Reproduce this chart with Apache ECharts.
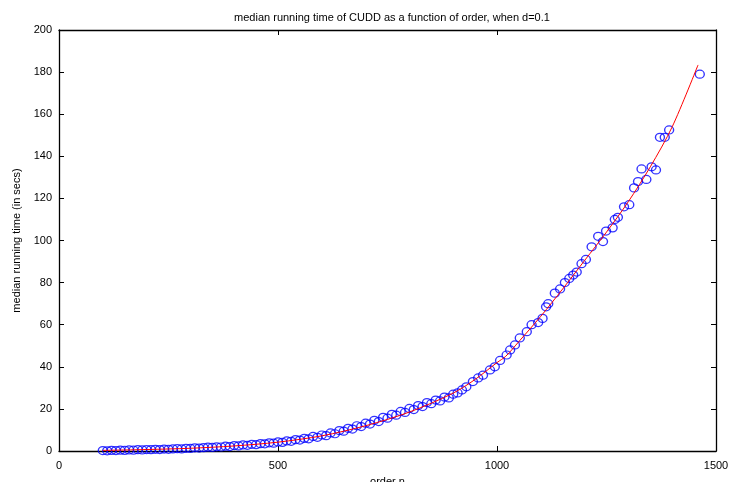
<!DOCTYPE html>
<html>
<head>
<meta charset="utf-8">
<script src="https://cdn.jsdelivr.net/npm/echarts@6/dist/echarts.min.js"></script>
<style>html,body{margin:0;padding:0;background:#fff;}#c{width:730px;height:482px;}</style>
</head>
<body>
<div id="c"></div>
<script>
var titleText = 'median running time of CUDD as a function of order, when d=0.1';
var xName = 'order n';
var yName = 'median running time (in secs)';
var xTicks = [0, 500, 1000, 1500];
var yTicks = [0, 20, 40, 60, 80, 100, 120, 140, 160, 180, 200];

// measured points (blue circles)
var orderN = [100,110,120,130,140,150,160,170,180,190,200,210,220,230,240,250,260,270,280,290,
  300,310,320,330,340,350,360,370,380,390,400,410,420,430,440,450,460,470,480,490,
  500,510,520,530,540,550,560,570,580,590,600,610,620,630,640,650,660,670,680,690,
  700,710,720,730,740,750,760,770,780,790,800,810,820,830,840,850,860,870,880,890,
  900,910,920,930,945,957,968,984,995,1007,1022,1030,1041,1052,1068,1079,1094,1104,1112,1117,
  1132,1144,1155,1165,1174,1182,1193,1203,1216,1231,1242,1249,1264,1269,1276,1290,1302,1313,1322,1330,
  1341,1353,1363,1372,1383,1393,1463];
var runTime = [0.2,0.1,0.3,0.2,0.4,0.3,0.5,0.4,0.6,0.5,0.7,0.6,0.8,0.7,0.9,0.8,1.0,1.1,1.0,1.3,
  1.2,1.5,1.4,1.6,1.8,1.7,2.0,1.9,2.3,2.1,2.6,2.4,2.9,2.7,3.2,3.0,3.5,3.4,3.9,3.7,
  4.3,4.1,4.8,4.6,5.4,5.2,6.0,5.8,6.9,6.5,7.6,7.3,8.6,8.2,9.7,9.4,10.8,10.4,12.0,11.6,
  13.2,12.8,14.6,14.0,16.0,15.6,17.4,17.0,18.8,18.3,20.2,19.7,21.6,21.1,23.0,22.5,24.2,23.8,25.6,25.2,
  27.0,27.6,29.0,30.5,33.0,34.7,36.0,38.5,40.0,43.0,45.6,48.0,50.4,53.7,56.7,60.0,61.0,63.0,68.5,70.0,
  75.0,77.0,80.0,82.0,83.6,85.0,89.0,91.0,97.0,102.0,99.5,104.5,106.0,110.0,111.0,116.0,117.0,125.0,128.0,134.0,
  129.0,135.0,133.5,149.0,149.0,152.5,179.0];

// fitted curve (red line)
var fitN = [100,200,300,400,500,600,700,800,900,950,1000,1020,1050,1100,1150,1200,1250,1300,1350,1400,1459];
var fitTime = [0.3,0.7,1.3,2.4,4.2,7.2,12.0,18.5,27.5,34.0,42.0,45.0,52.0,64.0,77.0,90.5,104.0,118.5,135.0,154.0,183.4];

var pts = orderN.map(function (n, i) { return [n, runTime[i]]; });
var fit = fitN.map(function (n, i) { return [n, fitTime[i]]; });

var font = 'Liberation Sans, Arial, sans-serif';
function axisBase() {
  return {
    axisLine: { show: true, onZero: false, lineStyle: { color: '#000', width: 1.3 } },
    axisTick: { show: true, inside: true, length: 5, lineStyle: { color: '#000', width: 1 } },
    splitLine: { show: false }
  };
}
var chart = echarts.init(document.getElementById('c'), null, { renderer: 'canvas' });
chart.setOption({
  backgroundColor: '#fff',
  animation: false,
  title: {
    text: titleText, left: 387, top: 7, textAlign: 'center',
    textStyle: { fontFamily: font, fontSize: 11, fontWeight: 'normal', color: '#000' }
  },
  grid: { left: 59, right: 14, top: 30, bottom: 31, containLabel: false, outerBoundsMode: 'none' },
  xAxis: [
    Object.assign(axisBase(), {
      type: 'value', min: 0, max: 1500, interval: 500,
      name: xName, nameLocation: 'middle', nameGap: 25,
      nameTextStyle: { fontFamily: font, fontSize: 11, color: '#000' },
      axisLabel: { fontFamily: font, fontSize: 11, color: '#000', margin: 9,
        formatter: function (v) { return xTicks.indexOf(v) >= 0 ? String(v) : ''; } }
    }),
    Object.assign(axisBase(), {
      type: 'value', min: 0, max: 1500, interval: 500, position: 'top',
      axisLabel: { show: false }
    })
  ],
  yAxis: [
    Object.assign(axisBase(), {
      type: 'value', min: 0, max: 200, interval: 20,
      name: yName, nameLocation: 'middle', nameGap: 35, nameRotate: 90,
      nameTextStyle: { fontFamily: font, fontSize: 11, color: '#000' },
      axisLabel: { fontFamily: font, fontSize: 11, color: '#000', margin: 7,
        formatter: function (v) { return yTicks.indexOf(v) >= 0 ? String(v) : ''; } }
    }),
    Object.assign(axisBase(), {
      type: 'value', min: 0, max: 200, interval: 20, position: 'right',
      axisLabel: { show: false }
    })
  ],
  series: [
    {
      type: 'scatter', xAxisIndex: 0, yAxisIndex: 0, data: pts,
      symbol: 'circle', symbolSize: [9, 8],
      itemStyle: { color: 'rgba(0,0,0,0)', borderColor: '#0000ff', borderWidth: 1.3 },
      z: 2
    },
    {
      type: 'line', xAxisIndex: 0, yAxisIndex: 0, data: fit,
      showSymbol: false, symbol: 'none', smooth: 0.3,
      lineStyle: { color: '#ff0000', width: 1 },
      z: 3
    }
  ]
});
</script>
</body>
</html>
